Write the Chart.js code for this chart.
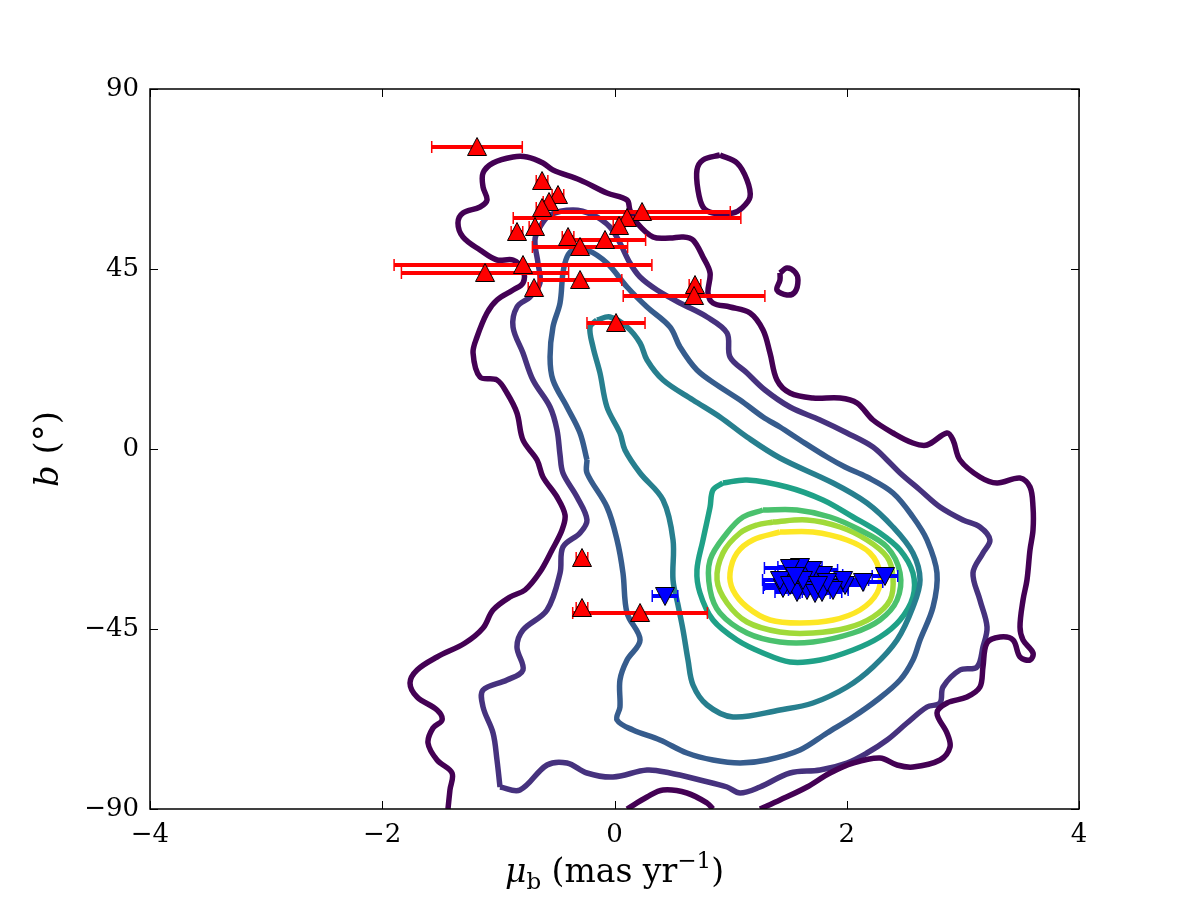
<!DOCTYPE html>
<html>
<head>
<meta charset="utf-8">
<script src="https://cdn.jsdelivr.net/npm/chart.js@4.4.1/dist/chart.umd.min.js"></script>
<style>
  html, body { margin: 0; background: #fff; }
  #wrap { width: 1200px; height: 900px; }
</style>
</head>
<body>
<div id="wrap"><canvas id="chart" width="1200" height="900"></canvas></div>
<script>
// axis ticks
const xTicks = [-4, -2, 0, 2, 4];
const yTicks = [-90, -45, 0, 45, 90];

// density contours, [mu_b, b] vertices, outermost level first
const level1Main = [[-1.434,-90],[-1.417,-85.25],[-1.399,-81],[-1.528,-77.75],[-1.606,-73.5],[-1.563,-69.75],[-1.485,-67.75],[-1.528,-65.25],[-1.7,-62],[-1.761,-58.5],[-1.7,-55.25],[-1.528,-52],[-1.287,-48.5],[-1.132,-44.75],[-1.046,-40.25],[-0.9,-37],[-0.771,-35.25],[-0.642,-30.75],[-0.538,-25.25],[-0.452,-20.25],[-0.426,-16.5],[-0.495,-12],[-0.616,-7],[-0.667,-2.75],[-0.788,2.25],[-0.84,9],[-0.926,14],[-1.012,17.25],[-1.158,18],[-1.218,24],[-1.184,28],[-1.098,34],[-1.012,37.25],[-0.874,39.75],[-0.788,41.5],[-0.788,44.75],[-0.874,47.25],[-1.012,47.25],[-1.158,49.75],[-1.305,53],[-1.348,56.5],[-1.305,59],[-1.158,60.5],[-1.098,62.25],[-1.132,65.5],[-1.132,69],[-1.046,71.5],[-0.874,73],[-0.753,73],[-0.616,71.5],[-0.53,69.75],[-0.297,67.25],[-0.065,64],[0.108,62.25],[0.133,59.75],[0.194,56.5],[0.332,53],[0.478,52.75],[0.59,53],[0.676,52.25],[0.762,48],[0.823,44],[0.805,39],[0.848,36.5],[0.995,35.5],[1.167,34],[1.279,29.75],[1.339,24],[1.399,17.25],[1.511,14],[1.709,12.75],[1.942,12.75],[2.088,11.5],[2.226,7.25],[2.399,4],[2.57,1.5],[2.691,1],[2.863,4],[2.915,2.25],[2.975,-2.75],[3.147,-7],[3.294,-8.5],[3.492,-7.25],[3.578,-9.5],[3.604,-14.5],[3.604,-20.25],[3.578,-25.25],[3.552,-32.75],[3.518,-37.75],[3.492,-44.5],[3.518,-47.75],[3.604,-51],[3.578,-52.75],[3.492,-52],[3.432,-47.75],[3.32,-47],[3.208,-48.5],[3.173,-54.5],[3.147,-59.5],[3.035,-62],[2.863,-63.5],[2.777,-66],[2.863,-71],[2.889,-74.5],[2.803,-77.75],[2.57,-79.5],[2.433,-79],[2.286,-77.25],[2.054,-78.5],[1.856,-81],[1.658,-84.5],[1.425,-87.75],[1.253,-90]];
const level1Bottom = [[0.108,-90],[0.28,-87],[0.418,-85.25],[0.624,-86],[0.797,-88.5],[0.848,-90]];
const level1IslandA = [[0.908,73.5],[1.055,71.5],[1.141,67.25],[1.167,63],[1.098,60.25],[1.02,59],[0.848,59],[0.762,60.5],[0.719,64.75],[0.71,69.75],[0.762,72.25],[0.908,73.5]];
const level1IslandB = [[1.425,44],[1.485,45.25],[1.554,44.25],[1.58,42.25],[1.554,39.25],[1.485,38.5],[1.399,39.75],[1.425,42.25],[1.425,44]];
const level2 = [[-0.986,-84.5],[-1.012,-77.75],[-1.046,-71],[-1.132,-64.5],[-1.132,-60.25],[-0.926,-57.75],[-0.788,-55.25],[-0.84,-49.5],[-0.788,-45.25],[-0.581,-40.25],[-0.469,-31],[-0.444,-24.5],[-0.297,-21],[-0.237,-17.75],[-0.323,-12],[-0.444,-6],[-0.469,-1.5],[-0.495,4.75],[-0.555,10.5],[-0.702,17.25],[-0.788,24],[-0.874,30.5],[-0.84,35.5],[-0.728,38],[-0.642,41.5],[-0.659,46.5],[-0.685,52.25],[-0.642,55.5],[-0.555,58.5],[-0.357,59.75],[-0.185,58.5],[-0.039,55.5],[0.047,51.5],[0.133,46.5],[0.22,43],[0.366,39.75],[0.564,36.5],[0.797,33],[0.969,29],[0.995,23],[1.141,19],[1.296,14.75],[1.511,10.5],[1.77,7.25],[2.002,4],[2.226,0.5],[2.347,-2.75],[2.459,-6],[2.631,-10.25],[2.803,-14.5],[3.001,-17.75],[3.147,-19.5],[3.233,-22.75],[3.173,-26],[3.087,-31],[3.147,-37.75],[3.208,-44.5],[3.173,-49.5],[3.122,-54.5],[2.975,-55.25],[2.829,-59.5],[2.803,-63.5],[2.691,-64.5],[2.519,-68.5],[2.347,-72.75],[2.174,-76],[2.002,-78.5],[1.77,-80.25],[1.511,-81],[1.253,-84.5],[1.081,-86],[0.969,-84.5],[0.736,-82.75],[0.478,-81],[0.28,-80.25],[-0.013,-82],[-0.237,-81],[-0.409,-78.5],[-0.581,-79],[-0.814,-85.25],[-0.986,-84.5]];
const level3 = [[-0.237,-2.75],[-0.297,4],[-0.409,10.5],[-0.53,17.25],[-0.555,23],[-0.53,30.5],[-0.469,36.5],[-0.444,44],[-0.409,48],[-0.357,49.75],[-0.237,49.75],[-0.065,46.5],[0.108,40.5],[0.28,35.5],[0.478,30.5],[0.564,25.5],[0.71,19.75],[0.908,15.5],[1.081,12.25],[1.279,8],[1.425,5.5],[1.597,2.25],[1.83,-2],[1.985,-4.5],[2.174,-7],[2.398,-11],[2.57,-17],[2.691,-22.75],[2.777,-31],[2.743,-39.5],[2.631,-47.75],[2.57,-52.75],[2.459,-57.75],[2.261,-62.75],[2.054,-67],[1.83,-71],[1.597,-75.25],[1.313,-77.75],[1.081,-78.5],[0.848,-77.75],[0.624,-76],[0.392,-72.75],[0.159,-70.25],[0.022,-67.75],[0.047,-64.5],[0.047,-57.75],[0.108,-52.75],[0.22,-47.75],[0.108,-41],[0.073,-31],[0.022,-22.75],[-0.065,-14.5],[-0.237,-6],[-0.237,-2.75]];
const level4 = [[-0.151,32.25],[-0.039,33],[0.108,30.5],[0.22,26.5],[0.28,22.25],[0.418,17.25],[0.676,12.25],[0.908,8],[1.141,3],[1.425,-2.25],[1.882,-8.5],[2.174,-13.5],[2.398,-19.5],[2.57,-26],[2.631,-32.75],[2.57,-39.5],[2.433,-47.75],[2.226,-54.5],[2.002,-59.5],[1.709,-63.5],[1.425,-65.25],[1.02,-67],[0.797,-64],[0.676,-59],[0.633,-52.75],[0.59,-45.25],[0.547,-39],[0.504,-32.75],[0.504,-22.75],[0.418,-12.75],[0.22,-6],[0.09,-0.25],[0.047,4],[-0.065,10.5],[-0.125,19],[-0.185,25.5],[-0.211,30.5],[-0.151,32.25]];
const level5 = [[0.934,-8.5],[1.141,-7.75],[1.485,-9.5],[1.795,-12.75],[2.054,-17],[2.286,-21],[2.459,-25.25],[2.57,-31],[2.57,-37],[2.459,-42.75],[2.286,-47],[2.054,-50.25],[1.77,-52.75],[1.511,-53.25],[1.279,-51],[1.055,-47.75],[0.848,-42.75],[0.736,-36],[0.71,-30.25],[0.762,-22.75],[0.823,-14.5],[0.848,-10.25],[0.934,-8.5]];
const level6 = [[1.279,-15.25],[1.571,-15.25],[1.856,-17],[2.114,-20.25],[2.347,-24.5],[2.459,-31],[2.433,-37.75],[2.286,-42.75],[2.054,-46],[1.709,-48.25],[1.425,-48.25],[1.141,-46],[0.908,-41],[0.823,-35.25],[0.823,-27.75],[0.969,-21],[1.107,-17],[1.279,-15.25]];
const level7 = [[1.365,-18.25],[1.658,-17.75],[1.942,-19.5],[2.174,-22.75],[2.347,-27],[2.398,-32],[2.373,-37.75],[2.226,-42],[2.002,-44.75],[1.709,-46],[1.425,-45.75],[1.141,-43.25],[0.969,-38.5],[0.883,-32.75],[0.934,-26],[1.081,-21],[1.227,-19],[1.365,-18.25]];
const level8 = [[1.425,-20.75],[1.709,-20.75],[2.002,-22.75],[2.2,-26],[2.286,-31],[2.261,-36],[2.114,-40.25],[1.882,-42.75],[1.597,-43.5],[1.339,-42.75],[1.141,-39.5],[1.02,-35.25],[0.995,-31],[1.055,-26],[1.192,-22.75],[1.425,-20.75]];

// red sample (up triangles)
const redMu  = [-1.184,-0.624,-0.487,-0.564,-0.624,0.237,0.108,0.039,-0.685,-0.84,-0.4,-0.082,-0.297,-0.788,-1.115,-0.297,-0.693,0.693,0.685,0.013,-0.28,-0.28,0.22];
const redB   = [75.5,67,63.5,61.75,60.25,59.25,57.75,55.75,55.5,54.25,53,52.25,50.5,46,44,42.25,40.25,41,38.25,31.5,-27.25,-39.75,-41];
const redErr = [0.39,0.05,0.05,0.05,0.05,0.76,0.98,0.05,0.05,0.05,0.05,0.35,0.41,1.11,0.72,0.36,0.05,0.05,0.61,0.25,0.05,0.05,0.58];

// blue sample (down triangles)
const blueMu  = [0.435,2.329,2.14,1.985,1.882,1.968,1.795,1.701,1.597,1.511,1.451,1.572,1.658,1.727,1.787,1.882,1.425,1.511,1.623,1.83,1.752,1.554];
const blueB   = [-36.75,-31.75,-33.25,-34,-34.75,-32.75,-31.5,-30.25,-29.5,-29.75,-34.75,-35.75,-35.25,-36,-35.75,-35.25,-32.75,-34,-32.75,-33.25,-34,-31.75];
const blueErr = [0.11,0.11,0.17,0.16,0.13,0.22,0.17,0.22,0.19,0.22,0.17,0.19,0.16,0.13,0.17,0.13,0.15,0.22,0.17,0.16,0.26,0.17];

const viridis = ["#440154", "#46327e", "#365c8d", "#277f8e", "#1fa187", "#4ac16d", "#a0da39", "#fde725"];
const serif = "'DejaVu Serif', 'Liberation Serif', serif";

function toPoints(list) {
  return list.map(([x, y]) => ({ x, y }));
}

function zipPoints(xs, ys) {
  return xs.map((x, i) => ({ x, y: ys[i] }));
}

function triangleMarker(fill, up) {
  const c = document.createElement("canvas");
  c.width = 22;
  c.height = 22;
  const ctx = c.getContext("2d");
  ctx.beginPath();
  if (up) {
    ctx.moveTo(11, 1.5); ctx.lineTo(20.5, 19.5); ctx.lineTo(1.5, 19.5);
  } else {
    ctx.moveTo(11, 20.5); ctx.lineTo(20.5, 2.5); ctx.lineTo(1.5, 2.5);
  }
  ctx.closePath();
  ctx.fillStyle = fill;
  ctx.fill();
  ctx.lineWidth = 1;
  ctx.strokeStyle = "#000";
  ctx.stroke();
  return c;
}

function contourSet(list, color) {
  return {
    data: toPoints(list),
    showLine: true,
    borderColor: color,
    borderWidth: 5.5,
    pointRadius: 0,
    tension: 0.35,
    clip: 0,
    order: 5,
  };
}

const contourSets = [
  contourSet(level1Main, viridis[0]),
  contourSet(level1Bottom, viridis[0]),
  contourSet(level1IslandA, viridis[0]),
  contourSet(level1IslandB, viridis[0]),
  contourSet(level2, viridis[1]),
  contourSet(level3, viridis[2]),
  contourSet(level4, viridis[3]),
  contourSet(level5, viridis[4]),
  contourSet(level6, viridis[5]),
  contourSet(level7, viridis[6]),
  contourSet(level8, viridis[7]),
];

// horizontal error bars drawn right before each marker set
const errorBarPlugin = {
  id: "errorBars",
  beforeDatasetDraw(chart, args) {
    const ds = chart.data.datasets[args.index];
    if (!ds.errors) return;
    const { ctx, scales: { x, y } } = chart;
    ctx.save();
    ctx.strokeStyle = ds.barColor;
    ds.data.forEach((p, i) => {
      const py = y.getPixelForValue(p.y);
      const x0 = x.getPixelForValue(p.x - ds.errors[i]);
      const x1 = x.getPixelForValue(p.x + ds.errors[i]);
      ctx.lineWidth = 4;
      ctx.beginPath();
      ctx.moveTo(x0, py);
      ctx.lineTo(x1, py);
      ctx.stroke();
      ctx.lineWidth = 1.5;
      ctx.beginPath();
      ctx.moveTo(x0, py - 6); ctx.lineTo(x0, py + 6);
      ctx.moveTo(x1, py - 6); ctx.lineTo(x1, py + 6);
      ctx.stroke();
    });
    ctx.restore();
  },
};

// frame, inward ticks on every side, axis titles
const framePlugin = {
  id: "frame",
  afterDraw(chart) {
    const { ctx, chartArea: a, scales: { x, y } } = chart;
    ctx.save();
    ctx.strokeStyle = "#000";
    ctx.lineWidth = 1;
    ctx.beginPath();
    xTicks.forEach((v) => {
      const px = Math.round(x.getPixelForValue(v)) + 0.5;
      ctx.moveTo(px, a.bottom); ctx.lineTo(px, a.bottom - 8);
      ctx.moveTo(px, a.top); ctx.lineTo(px, a.top + 8);
    });
    yTicks.forEach((v) => {
      const py = Math.round(y.getPixelForValue(v)) + 0.5;
      ctx.moveTo(a.left, py); ctx.lineTo(a.left + 8, py);
      ctx.moveTo(a.right, py); ctx.lineTo(a.right - 8, py);
    });
    ctx.stroke();
    ctx.lineWidth = 1.5;
    ctx.strokeRect(a.left, a.top, a.right - a.left, a.bottom - a.top);

    ctx.fillStyle = "#000";
    ctx.textBaseline = "alphabetic";
    const xParts = [
      { t: "\u03bc", f: `italic 33px ${serif}`, dy: 0 },
      { t: "b", f: `23px ${serif}`, dy: 7 },
      { t: " (mas yr", f: `33px ${serif}`, dy: 0 },
      { t: "\u22121", f: `23px ${serif}`, dy: -14 },
      { t: ")", f: `33px ${serif}`, dy: 0 },
    ];
    let total = 0;
    xParts.forEach((p) => { ctx.font = p.f; p.w = ctx.measureText(p.t).width; total += p.w; });
    let cx = (a.left + a.right) / 2 - total / 2;
    xParts.forEach((p) => { ctx.font = p.f; ctx.fillText(p.t, cx, 882 + p.dy); cx += p.w; });

    const yParts = [
      { t: "b", f: `italic 34px ${serif}`, dy: 0 },
      { t: " (", f: `34px ${serif}`, dy: 0 },
      { t: "\u00b0", f: `34px ${serif}`, dy: 0 },
      { t: ")", f: `34px ${serif}`, dy: 0 },
    ];
    total = 0;
    yParts.forEach((p) => { ctx.font = p.f; p.w = ctx.measureText(p.t).width; total += p.w; });
    ctx.translate(58, (a.top + a.bottom) / 2);
    ctx.rotate(-Math.PI / 2);
    cx = -total / 2;
    yParts.forEach((p) => { ctx.font = p.f; ctx.fillText(p.t, cx, p.dy); cx += p.w; });
    ctx.restore();
  },
};

const minus = (v) => String(v).replace("-", "\u2212");

new Chart(document.getElementById("chart"), {
  type: "scatter",
  data: {
    datasets: [
      {
        data: zipPoints(redMu, redB),
        errors: redErr,
        barColor: "#ff0000",
        pointStyle: triangleMarker("#ff0000", true),
        order: 1,
      },
      {
        data: zipPoints(blueMu, blueB),
        errors: blueErr,
        barColor: "#0000ff",
        pointStyle: triangleMarker("#0000ff", false),
        order: 1,
      },
      ...contourSets,
    ],
  },
  options: {
    responsive: false,
    animation: false,
    devicePixelRatio: 1,
    layout: { padding: { left: 0, right: 121, top: 89, bottom: 0 } },
    plugins: { legend: { display: false }, tooltip: { enabled: false } },
    scales: {
      x: {
        type: "linear",
        min: -4,
        max: 4,
        afterBuildTicks: (s) => { s.ticks = xTicks.map((value) => ({ value })); },
        afterFit: (s) => { s.height = 91; },
        grid: { display: false, drawTicks: false },
        border: { display: false },
        ticks: { color: "#000", font: { family: serif, size: 26 }, padding: 11, callback: minus, maxRotation: 0 },
      },
      y: {
        type: "linear",
        min: -90,
        max: 90,
        afterBuildTicks: (s) => { s.ticks = yTicks.map((value) => ({ value })); },
        afterFit: (s) => { s.width = 150; },
        grid: { display: false, drawTicks: false },
        border: { display: false },
        ticks: { color: "#000", font: { family: serif, size: 26 }, padding: 11, callback: minus },
      },
    },
  },
  plugins: [errorBarPlugin, framePlugin],
});
</script>
</body>
</html>
